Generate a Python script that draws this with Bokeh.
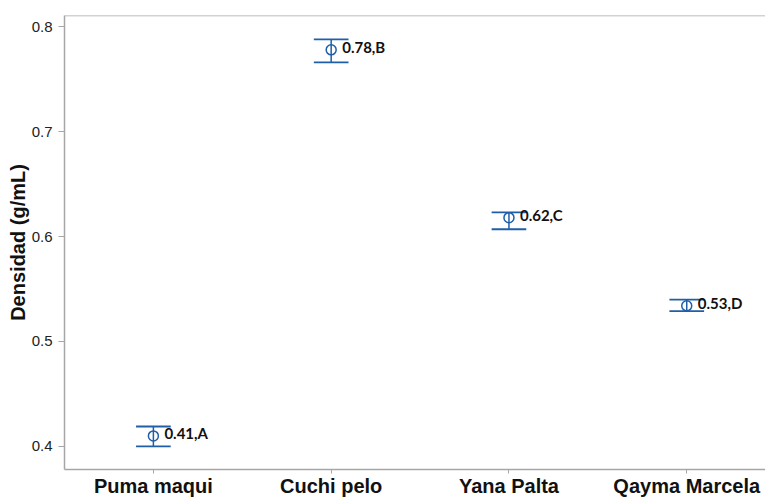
from bokeh.plotting import figure
from bokeh.models import FixedTicker, Range1d, Span, ColumnDataSource
from bokeh.core.properties import value
from bokeh.embed import file_html
from bokeh.resources import INLINE

categories = ["Puma maqui", "Cuchi pelo", "Yana Palta", "Qayma Marcela"]
means = [0.410, 0.778, 0.618, 0.534]
lower = [0.400, 0.766, 0.607, 0.529]
upper = [0.419, 0.788, 0.623, 0.540]
letters = ["A", "B", "C", "D"]
y_ticks = [0.4, 0.5, 0.6, 0.7, 0.8]

xs = list(range(1, len(categories) + 1))
cap_half = 0.0975
src = ColumnDataSource(dict(
    x=xs, m=means, lo=lower, hi=upper,
    x0=[x - cap_half for x in xs], x1=[x + cap_half for x in xs],
    lab=[f"{m:.2f},{l}" for m, l in zip(means, letters)],
))

p = figure(width=765, height=499, output_backend="svg", toolbar_location=None,
           x_range=Range1d(0.5, 4.443), y_range=Range1d(0.378, 0.8107),
           min_border_left=64, min_border_top=15, min_border_right=0, min_border_bottom=0)
p.outline_line_color = None
p.grid.visible = False
p.background_fill_color = "white"
p.border_fill_color = "white"

blue = "#1f5faa"
p.segment(x0="x", x1="x", y0="lo", y1="hi", source=src, line_color=blue, line_width=1.5)
p.segment(x0="x0", x1="x1", y0="lo", y1="lo", source=src, line_color=blue, line_width=1.8)
p.segment(x0="x0", x1="x1", y0="hi", y1="hi", source=src, line_color=blue, line_width=1.8)
p.scatter(x="x", y="m", source=src, marker="circle", size=10, fill_color=None,
          line_color=blue, line_width=1.5)
p.text(x="x", y="m", text="lab", source=src, x_offset=11, y_offset=-3,
       text_font=value("Lato"), text_font_style="bold", text_font_size="15px",
       text_baseline="middle", text_align="left", text_color="#111111")

top = Span(location=0.8107, dimension="width", line_color="#a6a6a6", line_width=1.5)
p.add_layout(top)

axis_col = "#a6a6a6"
p.xaxis.ticker = FixedTicker(ticks=xs)
p.xaxis.major_label_overrides = {x: c for x, c in zip(xs, categories)}
p.xaxis.major_label_text_font = "Liberation Sans"
p.xaxis.major_label_text_font_style = "bold"
p.xaxis.major_label_text_font_size = "20px"
p.xaxis.major_label_text_color = "#111111"
p.xaxis.major_label_standoff = 1
p.xaxis.major_tick_out = 4
p.xaxis.major_tick_in = 0
p.xaxis.minor_tick_line_color = None
p.xaxis.axis_line_color = axis_col
p.xaxis.axis_line_width = 1.5
p.xaxis.major_tick_line_color = axis_col

p.yaxis.ticker = FixedTicker(ticks=y_ticks)
p.yaxis.major_label_text_font = "Liberation Sans"
p.yaxis.major_label_text_font_size = "15px"
p.yaxis.major_label_text_color = "#222222"
p.yaxis.major_label_standoff = 6
p.yaxis.major_tick_out = 6
p.yaxis.major_tick_in = 0
p.yaxis.minor_tick_line_color = None
p.yaxis.axis_line_color = axis_col
p.yaxis.axis_line_width = 1.5
p.yaxis.major_tick_line_color = axis_col
p.yaxis.axis_label = "Densidad (g/mL)"
p.yaxis.axis_label_text_font = "Liberation Sans"
p.yaxis.axis_label_text_font_style = "bold"
p.yaxis.axis_label_text_font_size = "20px"
p.yaxis.axis_label_text_color = "#111111"
p.yaxis.axis_label_standoff = 0

open("out.html", "w").write(file_html(p, INLINE))
